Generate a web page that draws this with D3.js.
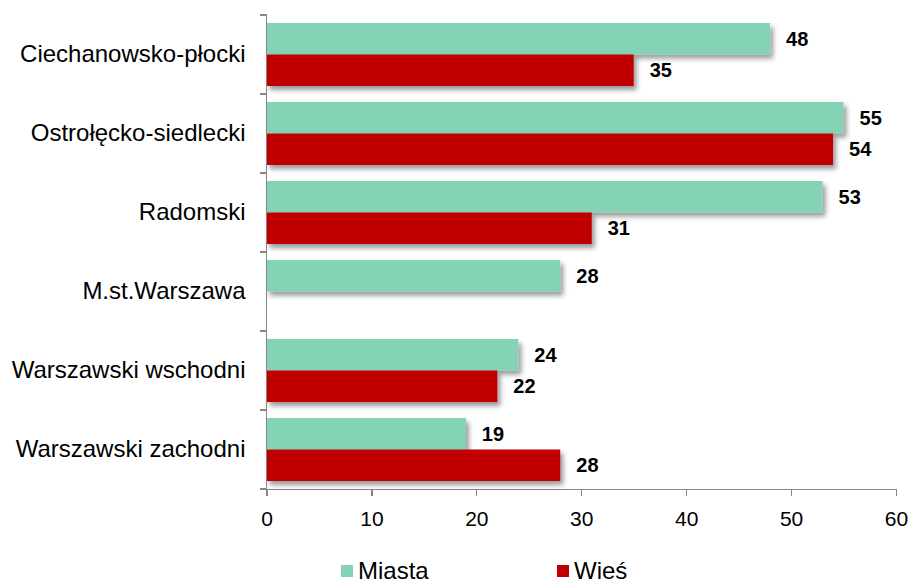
<!DOCTYPE html>
<html lang="pl">
<head>
<meta charset="utf-8">
<title>Miasta / Wieś</title>
<script src="https://cdn.jsdelivr.net/npm/d3@7"></script>
<style>
  body { margin: 0; background: #fff; }
  text { font-family: "Liberation Sans", Arial, sans-serif; fill: #000; }
  .axis path, .axis line { stroke: #868686; stroke-width: 1.3; shape-rendering: crispEdges; }
  .axis text { font-size: 21px; }
  .cat { font-size: 24px; }
  .val { font-size: 20px; font-weight: bold; }
  .legend text { font-size: 24px; }
</style>
</head>
<body>
<script>
// data
var categories = ["Ciechanowsko-płocki", "Ostrołęcko-siedlecki", "Radomski",
                  "M.st.Warszawa", "Warszawski wschodni", "Warszawski zachodni"];
var seriesNames = ["Miasta", "Wieś"];
var miasta = [48, 55, 53, 28, 24, 19];
var wies   = [35, 54, 31, null, 22, 28];
var xTicks = [0, 10, 20, 30, 40, 50, 60];
var colors = ["#83d3b4", "#c00000"];

var w = 910, h = 580;
var plotLeft = 266.5, plotRight = 896, plotTop = 15, plotBottom = 489;

var svg = d3.select("body").append("svg")
    .attr("width", w)
    .attr("height", h);

// shadow under the bars
var defs = svg.append("defs");
defs.append("filter")
    .attr("id", "shadow")
    .attr("x", "-5%").attr("y", "-20%")
    .attr("width", "115%").attr("height", "160%")
  .append("feDropShadow")
    .attr("dx", 3).attr("dy", 4)
    .attr("stdDeviation", 2.8)
    .attr("flood-color", "#000")
    .attr("flood-opacity", 0.4);

var x = d3.scaleLinear().domain([0, 60]).range([plotLeft, plotRight]);
var y = d3.scaleBand().domain(categories).range([plotTop, plotBottom]).padding(0);
var ySub = d3.scaleBand().domain(seriesNames)
    .range([8, y.bandwidth() - 8]).padding(0);

var rows = categories.map(function(c, i) {
  return { cat: c, values: [miasta[i], wies[i]] };
});

// bars
var groups = svg.append("g").selectAll("g")
    .data(rows)
  .enter().append("g")
    .attr("transform", function(d) { return "translate(0," + y(d.cat) + ")"; });

var items = groups.selectAll(".item")
    .data(function(d) {
      return d.values.map(function(v, j) { return { name: seriesNames[j], v: v, j: j }; })
        .filter(function(e) { return e.v != null; });
    })
  .enter().append("g")
    .attr("class", "item");

items.append("rect")
    .attr("x", x(0))
    .attr("y", function(d) { return ySub(d.name); })
    .attr("width", function(d) { return x(d.v) - x(0); })
    .attr("height", ySub.bandwidth())
    .attr("fill", function(d) { return colors[d.j]; })
    .attr("filter", "url(#shadow)");

items.append("text")
    .attr("class", "val")
    .attr("x", function(d) { return x(d.v) + 16; })
    .attr("y", function(d) { return ySub(d.name) + ySub.bandwidth() / 2; })
    .attr("dy", "0.36em")
    .text(function(d) { return d.v; });

// x axis
svg.append("g")
    .attr("class", "axis")
    .attr("transform", "translate(0," + plotBottom + ")")
    .call(d3.axisBottom(x).tickValues(xTicks).tickSize(7).tickSizeOuter(0).tickPadding(15))
    .call(function(g) { g.selectAll("text").attr("fill", "#000"); });

// y axis: ticks on the band edges
var yAxis = svg.append("g").attr("class", "axis");
yAxis.append("line")
    .attr("x1", plotLeft).attr("x2", plotLeft)
    .attr("y1", plotTop).attr("y2", plotBottom);
var edges = categories.map(function(c) { return y(c); }).concat([plotBottom]);
yAxis.selectAll(".tick")
    .data(edges)
  .enter().append("line")
    .attr("x1", plotLeft - 7).attr("x2", plotLeft)
    .attr("y1", function(d) { return d; })
    .attr("y2", function(d) { return d; });

svg.append("g").selectAll("text")
    .data(categories)
  .enter().append("text")
    .attr("class", "cat")
    .attr("x", plotLeft - 21)
    .attr("y", function(d) { return y(d) + y.bandwidth() / 2; })
    .attr("dy", "0.33em")
    .attr("text-anchor", "end")
    .text(function(d) { return d; });

// legend
var legendX = [341, 557];
var legend = svg.append("g").attr("class", "legend")
  .selectAll("g")
    .data(seriesNames)
  .enter().append("g")
    .attr("transform", function(d, i) { return "translate(" + legendX[i] + ",565)"; });

legend.append("rect")
    .attr("width", 12).attr("height", 12)
    .attr("fill", function(d, i) { return colors[i]; });

legend.append("text")
    .attr("x", 17)
    .attr("y", 14)
    .text(function(d) { return d; });
</script>
</body>
</html>
